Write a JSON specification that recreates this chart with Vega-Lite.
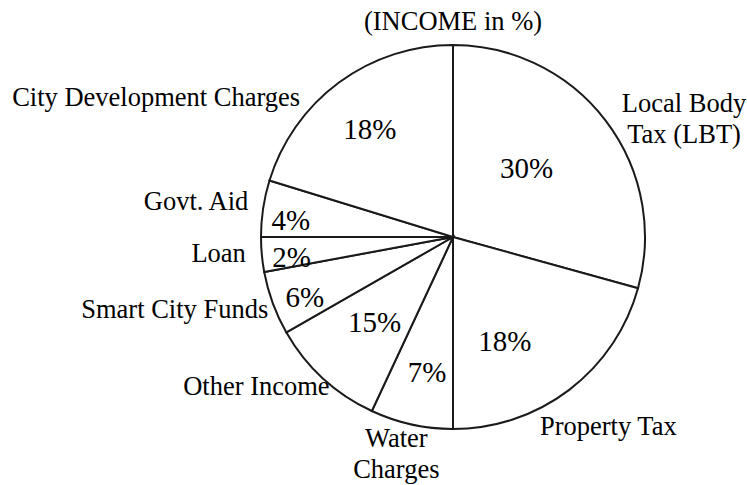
{
  "$schema": "https://vega.github.io/schema/vega-lite/v6.json",
  "width": 384,
  "height": 384,
  "autosize": "none",
  "padding": {"left": 261, "top": 45, "right": 102, "bottom": 56},
  "background": "white",
  "title": {
    "text": "(INCOME in %)",
    "font": "Liberation Serif",
    "fontSize": 26.5,
    "fontWeight": "normal",
    "color": "black",
    "anchor": "middle",
    "offset": 6
  },
  "data": {
    "values": [
      {"idx": 1, "key": "lbt", "name": "Local Body\nTax (LBT)", "pct": "30%", "share": 105.5},
      {"idx": 2, "key": "prop", "name": "Property Tax", "pct": "18%", "share": 74.5},
      {"idx": 3, "key": "water", "name": "Water\nCharges", "pct": "7%", "share": 25},
      {"idx": 4, "key": "other", "name": "Other Income", "pct": "15%", "share": 35.2},
      {"idx": 5, "key": "smart", "name": "Smart City Funds", "pct": "6%", "share": 19.3},
      {"idx": 6, "key": "loan", "name": "Loan", "pct": "2%", "share": 10.5},
      {"idx": 7, "key": "govt", "name": "Govt. Aid", "pct": "4%", "share": 17.1},
      {"idx": 8, "key": "city", "name": "City Development Charges", "pct": "18%", "share": 72.9}
    ]
  },
  "encoding": {
    "theta": {"field": "share", "type": "quantitative", "stack": true},
    "order": {"field": "idx", "type": "quantitative", "sort": "ascending"}
  },
  "layer": [
    {
      "mark": {"type": "arc", "outerRadius": 192, "fill": "white", "stroke": "#1a1a1a", "strokeWidth": 2}
    },
    {
      "mark": {
        "type": "text",
        "font": "Liberation Serif",
        "fontSize": 29,
        "color": "black",
        "align": "center",
        "baseline": "middle",
        "radius": {"expr": "{'lbt':100,'prop':117,'water':138,'other':116,'smart':160,'loan':162,'govt':163,'city':135}[datum.key]"},
        "dx": {"expr": "{'lbt':-6,'prop':-19,'water':4,'other':0,'smart':2,'loan':0,'govt':-1,'city':-3}[datum.key]"},
        "dy": {"expr": "{'lbt':-7,'prop':12,'water':1,'other':1,'smart':6,'loan':6,'govt':8,'city':2}[datum.key]"}
      },
      "encoding": {"text": {"field": "pct", "type": "nominal"}}
    },
    {
      "mark": {
        "type": "text",
        "font": "Liberation Serif",
        "fontSize": 26.5,
        "color": "black",
        "baseline": "middle",
        "lineBreak": "\n",
        "lineHeight": 31,
        "align": {"expr": "indexof(['lbt','prop','water'], datum.key) >= 0 ? 'center' : 'right'"},
        "radius": {"expr": "{'lbt':235,'prop':245,'water':225,'other':200,'smart':200,'loan':207,'govt':207,'city':200}[datum.key]"},
        "dx": {"expr": "{'lbt':44,'prop':7,'water':-8,'other':12,'smart':3,'loan':-1,'govt':0,'city':-34}[datum.key]"},
        "dy": {"expr": "{'lbt':9,'prop':-5,'water':-18,'other':3,'smart':4,'loan':-2,'govt':-4,'city':22}[datum.key]"}
      },
      "encoding": {"text": {"field": "name", "type": "nominal"}}
    }
  ]
}
